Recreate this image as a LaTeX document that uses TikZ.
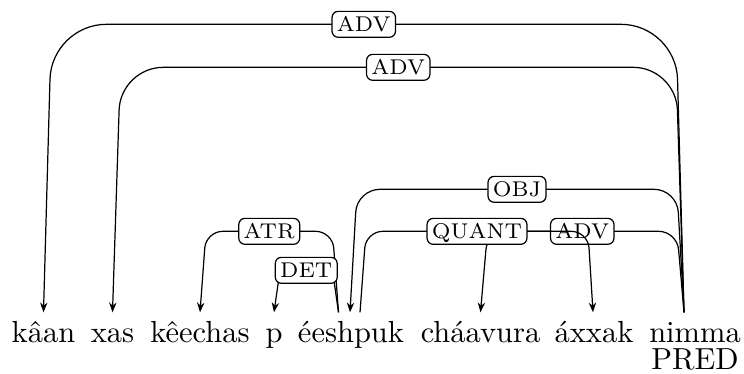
\documentclass[tikz,border=0pt]{standalone}
\usepackage{tikz}
\usetikzlibrary{calc}
\usetikzlibrary{arrows.meta}
\tikzset{
  word/.style={anchor=base,inner xsep=0pt,inner ysep=2.7pt,text height=7pt,text depth=2pt},
  dep/.style={draw,rounded corners=#1,-{Stealth[length=3.2pt,width=2.4pt]}},
  lab/.style={draw,fill=white,rounded corners=2pt,font=\scriptsize,inner xsep=1.6pt,
    inner ysep=1.8pt,text height=4.9pt,text depth=0pt},
}

\begin{document}
\begin{tikzpicture}[x=0.328pt,y=0.328pt]
\useasboundingbox (0,0) rectangle (744,373);
% the sentence
\node[word] (kaan) at (43.5,30.5) {kâan};
\node[word] (xas) at (112.5,30.5) {xas};
\node[word] (keechas) at (200,30.5) {kêechas};
\node[word] (p) at (274,30.5) {p};
\node[word] (eeshpuk) at (351,30.5) {éeshpuk};
\node[word] (chaavura) at (480.5,30.5) {cháavura};
\node[word] (axxak) at (594,30.5) {áxxak};
\node[word] (nimma) at (695,30.5) {nimma};
\node[anchor=base,inner sep=0pt] (pred) at (695,3.5) {PRED};
% where the outgoing edges leave the heads
\coordinate (eesh-l) at ($(eeshpuk.north)+(-12.5,0)$);
\coordinate (eesh-r) at ($(eeshpuk.north)+(9,0)$);
\coordinate (nim-l) at ($(nimma.north)+(-11,0)$);
% edges from nimma
\draw[dep=18pt] (nim-l) -- ++(-8,288) -- node[lab]{ADV} ($(kaan.north)+(8,288)$) -- (kaan.north);
\draw[dep=14pt] (nim-l) -- ++(-8,245) -- node[lab]{ADV} ($(xas.north)+(8,245)$) -- (xas.north);
\draw[dep=7.5pt] (nim-l) -- ++(-7,123) -- node[lab]{OBJ} ($(eeshpuk.north)+(6,123)$) -- ($(eeshpuk.north)+(-1,0)$);
\draw[dep=6pt] (nim-l) -- ++(-7,81) -- node[lab]{ADV} ($(chaavura.north)+(7,81)$) -- (chaavura.north);
% edges from eeshpuk
\draw[dep=5.5pt] (eesh-r) -- ++(6,81) -- node[lab]{QUANT} ($(axxak.north)+(-6,81)$) -- ($(axxak.north)+(-1,0)$);
\draw[dep=5.5pt] (eesh-l) -- ++(-6,81) -- node[lab]{ATR} ($(keechas.north)+(6,81)$) -- (keechas.north);
\draw[dep=3pt] (eesh-l) -- ++(-6,42) -- node[lab]{DET} ($(p.north)+(6,42)$) -- (p.north);
\end{tikzpicture}
\end{document}
